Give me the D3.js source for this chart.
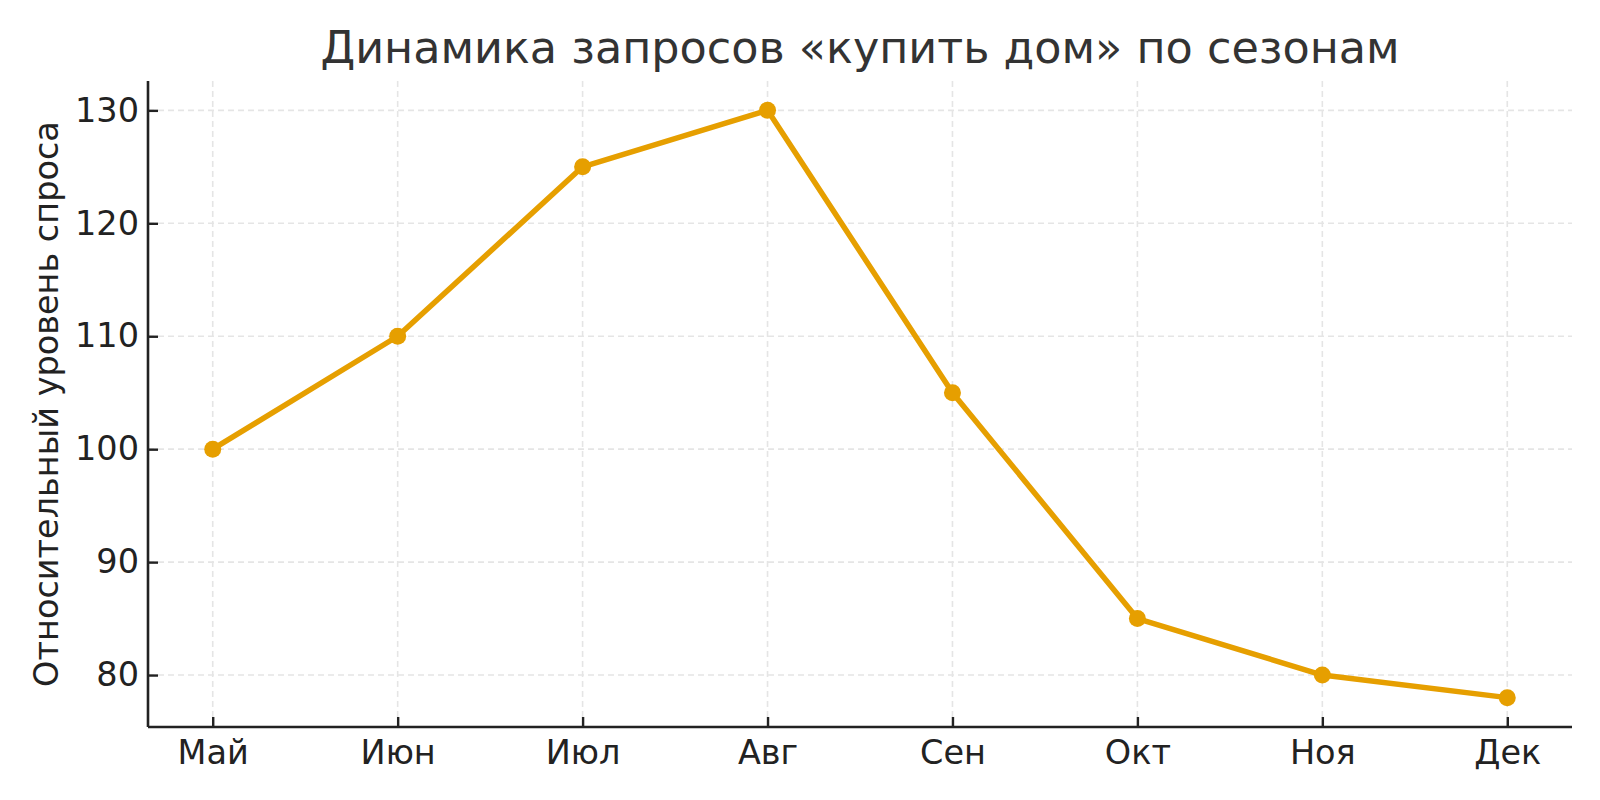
<!DOCTYPE html>
<html><head><meta charset="utf-8">
<script src="https://cdn.jsdelivr.net/npm/d3@7"></script>
<style>body{margin:0;background:#fff}svg{display:block}text{font-family:"DejaVu Sans",sans-serif}</style>
</head><body>
<script>
const months = ["Май","Июн","Июл","Авг","Сен","Окт","Ноя","Дек"];
const demand = [100,110,125,130,105,85,80,78];
const yTicks = [80,90,100,110,120,130];
const title = "Динамика запросов «купить дом» по сезонам";
const yLabel = "Относительный уровень спроса";

const W=1600,H=800;
const m={left:148,right:1572,top:81,bottom:727};
const svg=d3.select("body").append("svg").attr("width",W).attr("height",H);
const x=d3.scaleLinear().domain([-0.35,7.35]).range([m.left,m.right]);
const y=d3.scaleLinear().domain([75.4,132.6]).range([m.bottom,m.top]);

// grid
const g=svg.append("g");
g.selectAll(".gx").data(months).join("line")
 .attr("x1",(d,i)=>x(i)).attr("x2",(d,i)=>x(i)).attr("y1",m.top).attr("y2",m.bottom)
 .attr("stroke","#e5e5e5").attr("stroke-width",1.6).attr("stroke-dasharray","6,4");
g.selectAll(".gy").data(yTicks).join("line")
 .attr("x1",m.left).attr("x2",m.right).attr("y1",d=>y(d)).attr("y2",d=>y(d))
 .attr("stroke","#e5e5e5").attr("stroke-width",1.6).attr("stroke-dasharray","6,4");

// axes
const xAxis=d3.axisBottom(x).tickValues(d3.range(months.length)).tickFormat(i=>months[i]).tickSizeInner(-10).tickSizeOuter(0).tickPadding(13);
const yAxis=d3.axisLeft(y).tickValues(yTicks).tickSizeInner(-10).tickSizeOuter(0).tickPadding(9);
const ax=svg.append("g").attr("transform",`translate(0,${m.bottom})`).call(xAxis);
const ay=svg.append("g").attr("transform",`translate(${m.left},0)`).call(yAxis);
[ax,ay].forEach(a=>{
  a.select(".domain").attr("stroke","#222").attr("stroke-width",2.6);
  a.selectAll(".tick line").attr("stroke","#222").attr("stroke-width",2.4);
  a.selectAll(".tick text").attr("fill","#222").style("font-size","33.5px");
});
ax.select(".domain").attr("d",`M${m.left},0H${m.right}`);
ay.select(".domain").attr("d",`M0,${m.bottom}V${m.top}`);

// line
const line=d3.line().x((d,i)=>x(i)).y(d=>y(d));
svg.append("path").datum(demand).attr("d",line).attr("fill","none")
 .attr("stroke","#E69F00").attr("stroke-width",5.5).attr("stroke-linejoin","round");
svg.selectAll(".pt").data(demand).join("circle")
 .attr("cx",(d,i)=>x(i)).attr("cy",d=>y(d)).attr("r",8.5).attr("fill","#E69F00");

// title
svg.append("text").attr("x",(m.left+m.right)/2).attr("y",63).attr("text-anchor","middle")
 .attr("fill","#333").style("font-size","44.5px").text(title);
svg.append("text").attr("transform",`translate(58,${(m.top+m.bottom)/2}) rotate(-90)`)
 .attr("text-anchor","middle").attr("fill","#222").style("font-size","33.5px").text(yLabel);
</script>
</body></html>
